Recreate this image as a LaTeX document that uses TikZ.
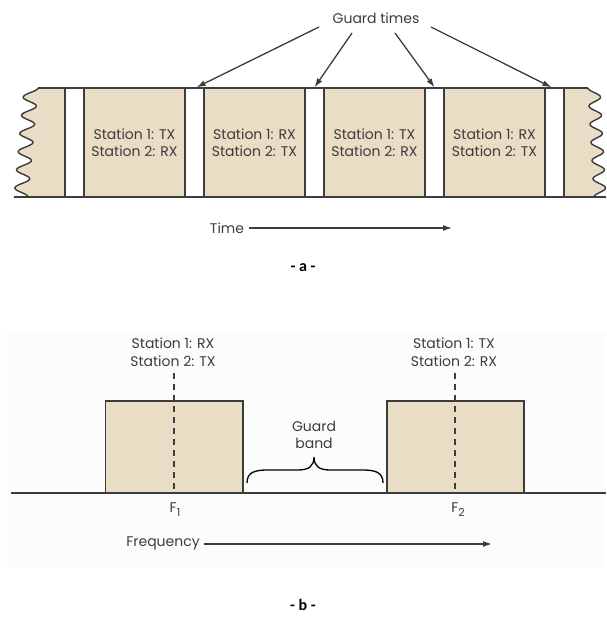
\documentclass[tikz,border=0pt]{standalone}
\usepackage{fontspec}
\setmainfont{Poppins}
\newfontfamily\labfont{Carlito}
\usetikzlibrary{arrows.meta}
\definecolor{beige}{RGB}{233,221,197}
\definecolor{ink}{RGB}{60,60,60}
\definecolor{panel}{RGB}{252,253,250}
\begin{document}
\begin{tikzpicture}[x=1pt,y=-1pt,
  every node/.style={text=ink,font=\fontsize{14}{17.5}\selectfont,inner sep=0pt,align=center},
  outl/.style={draw=ink,line width=1.4pt},
  guardbox/.style={draw=ink,line width=1.4pt,fill=white,minimum width=19pt,minimum height=109pt},
  arr/.style={draw=ink,line width=1.3pt,-{Latex[length=9pt,width=6pt]}},
  caplabel/.style={font=\labfont\bfseries\fontsize{16}{18}\selectfont,text=black}]
\useasboundingbox (0,0) rectangle (606,620);
% ---------- part a ----------
\fill[beige] plot[domain=0:1,samples=150,smooth] ({31-10*\x+7*cos(6*360*\x)},{88+109*\x})
  -- plot[domain=1:0,samples=150,smooth] ({594+6*\x-6*cos(6*360*\x)},{88+109*\x}) -- cycle;
\draw[outl] plot[domain=0:1,samples=150,smooth] ({31-10*\x+7*cos(6*360*\x)},{88+109*\x});
\draw[outl] plot[domain=0:1,samples=150,smooth] ({594+6*\x-6*cos(6*360*\x)},{88+109*\x});
\draw[outl] (38,88) -- (588,88);
\draw[outl] (14,197) -- (606,197);
\node[guardbox] (g0) at (74.5,142.5) {};
\node[guardbox] (g1) at (194.5,142.5) {};
\node[guardbox] (g2) at (314.5,142.5) {};
\node[guardbox] (g3) at (434.5,142.5) {};
\node[guardbox] (g4) at (554.5,142.5) {};
\node (s1) at (134.5,142.5) {Station 1: TX\\Station 2: RX};
\node (s2) at (254.5,142.5) {Station 1: RX\\Station 2: TX};
\node (s3) at (374.5,142.5) {Station 1: TX\\Station 2: RX};
\node (s4) at (494.5,142.5) {Station 1: RX\\Station 2: TX};
\node (gt) at (376,18) {Guard times};
\coordinate (a1) at (319,27);
\coordinate (a2) at (352,33);
\coordinate (a3) at (395,33);
\coordinate (a4) at (431,27);
\draw[arr] (a1) -- ([xshift=2pt]g1.north);
\draw[arr] (a2) -- (g2.north);
\draw[arr] (a3) -- (g3.north);
\draw[arr] (a4) -- ([xshift=-3pt]g4.north);
\node (time) at (227,228) {Time};
\coordinate (tend) at (452,228);
\draw[arr] ([xshift=5pt]time.east) -- (tend);
\node[caplabel] (la) at (303,268) {- a -};
% ---------- part b ----------
\fill[panel] (7,331) rectangle (606,568);
\draw[outl] (11,493) -- (606,493);
\node[outl,fill=beige,minimum width=137.5pt,minimum height=92pt] (b1) at (174.25,447) {};
\node[outl,fill=beige,minimum width=137pt,minimum height=92pt] (b2) at (455.5,447) {};
\node (t1) at (173,352) {Station 1: RX\\Station 2: TX};
\node (t2) at (454,352) {Station 1: TX\\Station 2: RX};
\coordinate (d1) at (174,373);
\coordinate (d2) at (455,373);
\draw[draw=ink,line width=1.3pt,dash pattern=on 6pt off 5pt] (d1) -- (d1 |- b1.south);
\draw[draw=ink,line width=1.3pt,dash pattern=on 6pt off 5pt] (d2) -- (d2 |- b2.south);
\node (f1) at (175,510) {F\raisebox{-4pt}{\fontsize{11}{11}\selectfont 1}};
\node (f2) at (458,510) {F\raisebox{-4pt}{\fontsize{11}{11}\selectfont 2}};
\node (gb) at (314,435) {Guard\\band};
\draw[draw=black,line width=1.3pt] (247,483) .. controls (247,472) and (255,470) .. (268,470) -- (298,470)
  .. controls (309,470) and (314,466) .. (314,457)
  .. controls (314,466) and (319,470) .. (330,470) -- (362,470)
  .. controls (375,470) and (383,472) .. (383,483);
\node (freq) at (163,543) {Frequency};
\coordinate (fend) at (492,544);
\draw[arr] ([xshift=4pt]freq.east |- fend) -- (fend);
\node[caplabel] (lb) at (303,605) {- b -};
\end{tikzpicture}
\end{document}
